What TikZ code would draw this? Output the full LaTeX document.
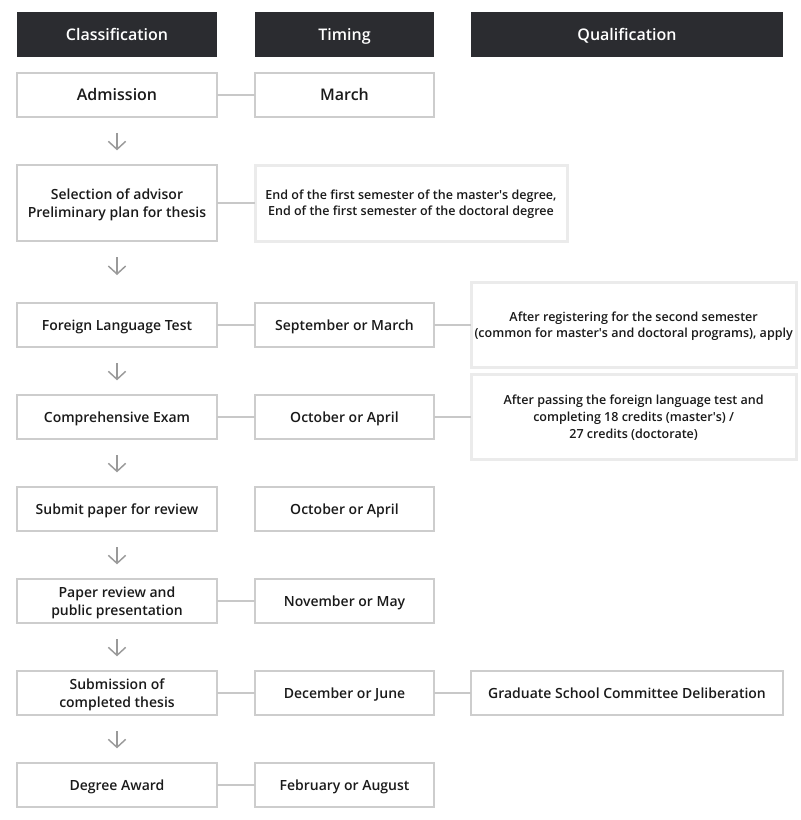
\documentclass[tikz,border=0pt]{standalone}
\usepackage{fontspec}
\setmainfont{Open Sans}[BoldFont={Open Sans Semibold}]
\usetikzlibrary{positioning,arrows.meta}

\definecolor{headfill}{HTML}{2B2C30}
\definecolor{boxgray}{HTML}{CDCDCD}
\definecolor{notegray}{HTML}{EBEBEB}
\definecolor{linkgray}{HTML}{C8C8C8}
\definecolor{arrowgray}{HTML}{9A9A9A}
\definecolor{inkdark}{HTML}{1A1A1A}

\begin{document}
\begin{tikzpicture}[
    node distance=36pt and 28.5pt,
    every node/.style={
        align=center,
        inner sep=0pt,
        outer sep=0pt,
        text=inkdark
    },
    head/.style={
        fill=headfill,
        text=white,
        minimum height=33.75pt,
        text height=8.6pt,
        text depth=0pt,
        font=\fontsize{12}{14}\selectfont\bfseries
    },
    cell/.style={
        draw=boxgray,
        line width=0.9pt,
        fill=white,
        minimum height=33pt,
        font=\fontsize{10.5}{13.5}\selectfont\bfseries
    },
    one/.style={text height=7.5pt, text depth=0pt},
    two/.style={text height=21pt, text depth=0pt},
    big/.style={font=\fontsize{12}{14}\selectfont\bfseries,
        text height=8.6pt, text depth=0pt},
    col1/.style={minimum width=150pt},
    col2/.style={minimum width=134.25pt},
    note/.style={
        draw=notegray,
        line width=2.25pt,
        fill=white,
        text depth=0pt,
        font=\fontsize{9.4}{12.5}\selectfont\bfseries
    },
    link/.style={draw=linkgray, line width=1.5pt},
    arrow/.style={-{Straight Barb[length=6pt, width=13pt, line width=1.1pt]},
        draw=arrowgray, line width=1.1pt, shorten <=12pt, shorten >=11pt}
]

\useasboundingbox (0,0) rectangle (600pt,-615pt);

% header row
\node (hclass) [head, col1, anchor=north west] at (12.75pt,-9pt) {Classification};
\node (htime) [head, col2, right=of hclass] {Timing};
\node (hqual) [head, minimum width=234pt, right=27.75pt of htime] {Qualification};

% classification column
\node (adm) [cell, col1, big, below=12pt of hclass] {Admission};
\node (sel) [cell, col1, two, minimum height=57pt, below=of adm]
    {Selection of advisor\\Preliminary plan for thesis};
\node (flt) [cell, col1, one, below=46.5pt of sel] {Foreign Language Test};
\node (comp) [cell, col1, one, below=of flt] {Comprehensive Exam};
\node (submit) [cell, col1, one, below=of comp] {Submit paper for review};
\node (review) [cell, col1, two, below=of submit]
    {Paper review and\\public presentation};
\node (thesis) [cell, col1, two, below=of review]
    {Submission of\\completed thesis};
\node (award) [cell, col1, one, below=of thesis] {Degree Award};

% timing column
\node (tadm) [cell, col2, big, right=of adm] {March};
\node (tsel) [note, text height=19.2pt, minimum width=234pt, minimum height=57pt, right=of sel]
    {End of the first semester of the master\textquotesingle s degree,\\End of the first semester of the doctoral degree};
\node (tflt) [cell, col2, one, right=of flt] {September or March};
\node (tcomp) [cell, col2, one, right=of comp] {October or April};
\node (tsubmit) [cell, col2, one, right=of submit] {October or April};
\node (treview) [cell, col2, one, right=of review] {November or May};
\node (tthesis) [cell, col2, one, right=of thesis] {December or June};
\node (taward) [cell, col2, one, right=of award] {February or August};

% qualification column
\node (qflt) [note, text height=19.2pt, minimum width=244pt, minimum height=63.75pt, right=27.75pt of tflt]
    {After registering for the second semester\\(common for master\textquotesingle s and doctoral programs), apply};
\node (qcomp) [note, text height=31.7pt, minimum width=244pt, minimum height=63.75pt, right=27.75pt of tcomp]
    {After passing the foreign language test and\\completing 18 credits (master\textquotesingle s) /\\27 credits (doctorate)};
\node (qthesis) [cell, one, minimum width=234pt, right=27.75pt of tthesis]
    {Graduate School Committee Deliberation};

% row links
\draw[link] (adm) -- (tadm);
\draw[link] (sel) -- (tsel);
\draw[link] (flt) -- (tflt);
\draw[link] (tflt) -- (qflt);
\draw[link] (comp) -- (tcomp);
\draw[link] (tcomp) -- (qcomp);
\draw[link] (review) -- (treview);
\draw[link] (thesis) -- (tthesis);
\draw[link] (tthesis) -- (qthesis);
\draw[link] (award) -- (taward);

% flow arrows
\draw[arrow] (adm) -- (sel);
\draw[arrow, shorten >=21pt] (sel) -- (flt);
\draw[arrow] (flt) -- (comp);
\draw[arrow] (comp) -- (submit);
\draw[arrow] (submit) -- (review);
\draw[arrow] (review) -- (thesis);
\draw[arrow] (thesis) -- (award);

\end{tikzpicture}
\end{document}
